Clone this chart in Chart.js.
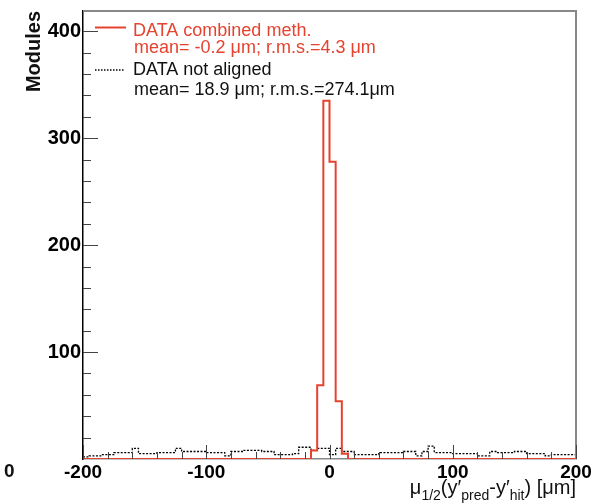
<!DOCTYPE html>
<html>
<head>
<meta charset="utf-8">
<script src="https://cdn.jsdelivr.net/npm/chart.js@4/dist/chart.umd.min.js"></script>
<style>
  html, body { margin: 0; padding: 0; background: #fff; }
  #wrap { width: 592px; height: 504px; }
</style>
</head>
<body>
<div id="wrap"><canvas id="hist"></canvas></div>
<script>
// histogram binning (µm)
const binLow = -200;
const binWidth = 5;

// DATA combined meth. (counts per bin)
const combinedCounts = [
  0, 0, 0, 0, 0, 0, 0, 0, 0, 0,
  0, 0, 0, 0, 0, 0, 0, 0, 0, 0,
  0, 0, 0, 0, 0, 0, 0, 0, 0, 0,
  0, 0, 0, 0, 0, 0, 0, 8, 69, 335,
  278, 54, 5, 0, 0, 0, 0, 0, 0, 0,
  0, 0, 0, 0, 0, 0, 0, 0, 0, 0,
  0, 0, 0, 0, 0, 0, 0, 0, 0, 0,
  0, 0, 0, 0, 0, 0, 0, 0, 0, 0
];

// DATA not aligned (counts per bin)
const notAlignedCounts = [
  2, 3, 3, 4, 4, 6, 6, 6, 10, 5,
  5, 5, 6, 6, 6, 10, 7, 7, 7, 7,
  6, 6, 6, 3, 7, 7, 8, 8, 8, 7,
  7, 4, 4, 4, 5, 11, 11, 8, 10, 10,
  4, 10, 7, 7, 4, 4, 4, 4, 6, 6,
  6, 6, 7, 7, 3, 7, 12, 6, 6, 6,
  5, 5, 5, 5, 3, 3, 7, 6, 6, 6,
  7, 7, 5, 5, 5, 3, 4, 4, 4, 4
];

const xTicks = [-200, -100, 0, 100, 200];
const yTicks = [100, 200, 300, 400];

const RED = '#e5432f';

// turn bin contents into step points (left edges + closing edge)
function toSteps(counts) {
  const pts = counts.map((c, i) => ({ x: binLow + i * binWidth, y: c }));
  pts.push({ x: binLow + counts.length * binWidth, y: counts[counts.length - 1] });
  return pts;
}

const rootStyle = {
  id: 'rootStyle',
  afterDraw(chart) {
    const ctx = chart.ctx;
    const a = chart.chartArea;
    const xs = chart.scales.x, ys = chart.scales.y;
    ctx.save();

    // frame top + right
    ctx.strokeStyle = '#888';
    ctx.lineWidth = 2;
    ctx.beginPath();
    ctx.moveTo(a.left, a.top);
    ctx.lineTo(a.right, a.top);
    ctx.lineTo(a.right, a.bottom);
    ctx.stroke();

    // ticks inside the frame
    ctx.strokeStyle = '#444';
    ctx.lineWidth = 1;
    ctx.beginPath();
    for (let v = -200; v <= 200; v += 20) {
      const px = Math.round(xs.getPixelForValue(v)) + 0.5;
      const len = (v % 100 === 0) ? 14 : 7;
      ctx.moveTo(px, a.bottom);
      ctx.lineTo(px, a.bottom - len);
    }
    for (let v = 20; v <= 400; v += 20) {
      const py = Math.round(ys.getPixelForValue(v)) + 0.5;
      const len = (v % 100 === 0) ? 15 : 8;
      ctx.moveTo(a.left, py);
      ctx.lineTo(a.left + len, py);
    }
    ctx.stroke();

    // legend
    ctx.textBaseline = 'alphabetic';
    ctx.textAlign = 'left';
    ctx.font = '18px "Liberation Sans", Arial, sans-serif';
    ctx.strokeStyle = RED;
    ctx.lineWidth = 2;
    ctx.beginPath();
    ctx.moveTo(95, 27.5);
    ctx.lineTo(126, 27.5);
    ctx.stroke();
    ctx.fillStyle = RED;
    ctx.fillText('DATA combined meth.', 133, 36);
    ctx.fillText('mean= -0.2 \u03bcm; r.m.s.=4.3 \u03bcm', 134, 53);

    ctx.strokeStyle = '#000';
    ctx.lineWidth = 1.5;
    ctx.setLineDash([1.5, 1.5]);
    ctx.beginPath();
    ctx.moveTo(95, 70);
    ctx.lineTo(125, 70);
    ctx.stroke();
    ctx.setLineDash([]);
    ctx.fillStyle = '#111';
    ctx.fillText('DATA not aligned', 133, 75);
    ctx.fillText('mean= 18.9 \u03bcm; r.m.s.=274.1\u03bcm', 134, 95);

    // x axis title with subscripts, right aligned to frame
    const big = '20px "Liberation Sans", Arial, sans-serif';
    const small = '14px "Liberation Sans", Arial, sans-serif';
    const parts = [
      ['\u03bc', big, 0], ['1/2', small, 6], ['(y\u2032', big, 0], ['pred', small, 6],
      ['-y\u2032', big, 0], ['hit', small, 6], [') [\u03bcm]', big, 0]
    ];
    let w = 0;
    parts.forEach(p => { ctx.font = p[1]; w += ctx.measureText(p[0]).width; });
    let x = a.right - w;
    ctx.fillStyle = '#111';
    parts.forEach(p => {
      ctx.font = p[1];
      ctx.fillText(p[0], x, 494 + p[2]);
      x += ctx.measureText(p[0]).width;
    });

    // stray zero at far left
    ctx.font = 'bold 19px "Liberation Sans", Arial, sans-serif';
    ctx.fillText('0', 4, 477);

    // y axis title
    ctx.translate(40, 11);
    ctx.rotate(-Math.PI / 2);
    ctx.textAlign = 'right';
    ctx.font = 'bold 20px "Liberation Sans", Arial, sans-serif';
    ctx.fillText('Modules', 0, 0);
    ctx.restore();
  }
};

new Chart(document.getElementById('hist'), {
  type: 'line',
  data: {
    datasets: [
      {
        label: 'DATA combined meth.',
        data: toSteps(combinedCounts),
        borderColor: RED,
        borderWidth: 2,
        stepped: 'before',
        pointRadius: 0,
        fill: false
      },
      {
        label: 'DATA not aligned',
        data: toSteps(notAlignedCounts),
        borderColor: '#000',
        borderWidth: 1.3,
        borderDash: [2, 1.5],
        stepped: 'before',
        pointRadius: 0,
        fill: false
      }
    ]
  },
  options: {
    responsive: true,
    maintainAspectRatio: false,
    animation: false,
    layout: { padding: { top: 11, right: 16, left: 0, bottom: 0 } },
    plugins: { legend: { display: false }, tooltip: { enabled: false } },
    scales: {
      x: {
        type: 'linear',
        min: -200,
        max: 200,
        afterBuildTicks: s => { s.ticks = xTicks.map(v => ({ value: v })); },
        afterFit: s => { s.height = 45; s.paddingLeft = 0; s.paddingRight = 0; },
        grid: { display: false, drawTicks: false },
        border: { color: '#888', width: 1.5 },
        ticks: {
          padding: 2,
          maxRotation: 0,
          autoSkip: false,
          color: '#000',
          font: { family: '"Liberation Sans", Arial, sans-serif', size: 19, weight: 'bold' }
        }
      },
      y: {
        min: 0,
        max: 419,
        afterBuildTicks: s => { s.ticks = yTicks.map(v => ({ value: v })); },
        afterFit: s => { s.width = 83; s.paddingTop = 0; s.paddingBottom = 0; },
        grid: { display: false, drawTicks: false },
        border: { color: '#000', width: 1.5 },
        ticks: {
          padding: 2,
          color: '#000',
          font: { family: '"Liberation Sans", Arial, sans-serif', size: 20, weight: 'bold' }
        }
      }
    }
  },
  plugins: [rootStyle]
});
</script>
</body>
</html>
